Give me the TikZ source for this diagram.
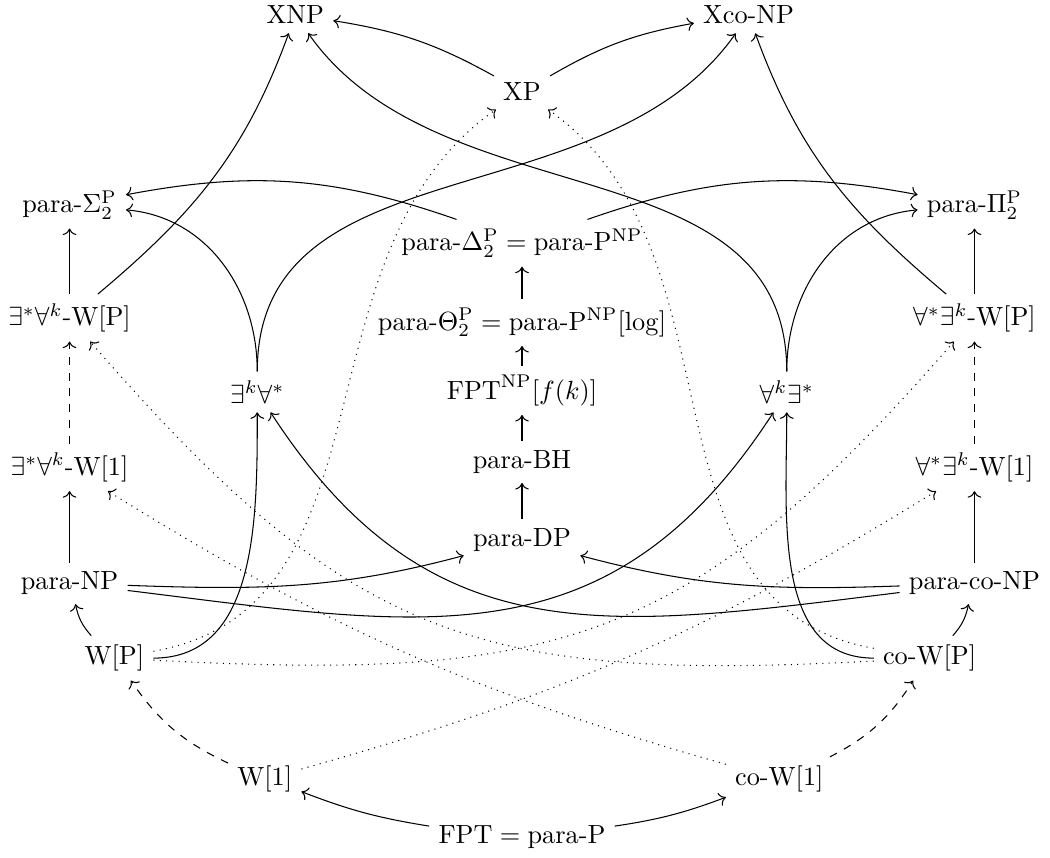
\documentclass[tikz,border=0pt]{standalone}
\usepackage{amsmath}
\usetikzlibrary{arrows.meta}

\begin{document}
\begin{tikzpicture}[
  arr/.style={->},
  darr/.style={->, dashed},
  oarr/.style={->, dotted}
]
\useasboundingbox (-6.98,0) rectangle (7.06,11.46);

% Middle column
\node (fpt) at (0,0.27) {$\mathrm{FPT} = \text{para-P}$};
\node (pdp) at (0,4.24) {para-DP};
\node (pbh) at (0,5.28) {para-BH};
\node (fptnp) at (0,6.24) {$\mathrm{FPT}^{\mathrm{NP}}[f(k)]$};
\node (ptheta) at (0,7.15) {$\text{para-}\Theta_2^{\mathrm{P}} = \text{para-}\mathrm{P}^{\mathrm{NP}}[\log]$};
\node (pdelta) at (0,8.21) {$\text{para-}\Delta_2^{\mathrm{P}} = \text{para-}\mathrm{P}^{\mathrm{NP}}$};
\node (xp) at (0,10.24) {XP};

% Left side
\node (wone) at (-3.44,1.04) {W[1]};
\node (wp) at (-5.45,2.66) {W[P]};
\node (pnp) at (-6.05,3.66) {para-NP};
\node (eaw1) at (-6.05,5.21) {$\exists^*\forall^k\text{-W[1]}$};
\node (eka) at (-3.54,6.22) {$\exists^k\forall^*$};
\node (eawp) at (-6.05,7.21) {$\exists^*\forall^k\text{-W[P]}$};
\node (psig) at (-6.05,8.72) {$\text{para-}\Sigma_2^{\mathrm{P}}$};
\node (xnp) at (-3.03,11.26) {XNP};

% Right side
\node (cowone) at (3.44,1.04) {co-W[1]};
\node (cowp) at (5.45,2.66) {co-W[P]};
\node (pconp) at (6.05,3.66) {para-co-NP};
\node (aew1) at (6.05,5.21) {$\forall^*\exists^k\text{-W[1]}$};
\node (ake) at (3.54,6.22) {$\forall^k\exists^*$};
\node (aewp) at (6.05,7.21) {$\forall^*\exists^k\text{-W[P]}$};
\node (ppi) at (6.05,8.72) {$\text{para-}\Pi_2^{\mathrm{P}}$};
\node (xconp) at (3.03,11.26) {Xco-NP};

% W-hierarchy
\draw[arr] (fpt) to[bend left=6] (wone);
\draw[arr] (fpt) to[bend right=6] (cowone);
\draw[darr] (wone) to[bend left=15] (wp);
\draw[darr] (cowone) to[bend right=15] (cowp);
\draw[arr] (wp) to[bend left=15] (pnp);
\draw[arr] (cowp) to[bend right=15] (pconp);

% Outer columns
\draw[arr] (pnp) -- (eaw1);
\draw[darr] (eaw1) -- (eawp);
\draw[arr] (eawp) -- (psig);
\draw[arr] (pconp) -- (aew1);
\draw[darr] (aew1) -- (aewp);
\draw[arr] (aewp) -- (ppi);

% Middle column
\draw[arr] (pdp) -- (pbh);
\draw[arr] (pbh) -- (fptnp);
\draw[arr] (fptnp) -- (ptheta);
\draw[arr] (ptheta) -- (pdelta);
\draw[arr] (pnp) to[out=-2,in=195] (pdp);
\draw[arr] (pconp) to[out=182,in=-15] (pdp);
\draw[arr] (pdelta) to[bend right=15] (psig);
\draw[arr] (pdelta) to[bend left=15] (ppi);

% Quantifier classes
\draw[arr] (wp) to[out=0,in=270] (eka);
\draw[arr] (cowp) to[out=180,in=270] (ake);
\draw[arr] (pnp) to[out=-7,in=237,looseness=1.15] (ake);
\draw[arr] (pconp) to[out=187,in=-57,looseness=1.15] (eka);
\draw[arr] (eka) to[out=90,in=-5] (psig);
\draw[arr] (ake) to[out=90,in=185] (ppi);
\draw[arr] (eka) to[out=90,in=235] (xconp);
\draw[arr] (ake) to[out=90,in=-55] (xnp);

% X classes
\draw[arr] (xp) to[bend right=10] (xnp);
\draw[arr] (xp) to[bend left=10] (xconp);
\draw[arr] (eawp) to[out=40,in=250] (xnp);
\draw[arr] (aewp) to[out=140,in=-70] (xconp);

% Dotted ones
\draw[oarr] (wp) to[out=10,in=215] (xp);
\draw[oarr] (cowp) to[out=170,in=-35] (xp);
\draw[oarr] (wp) to[out=-3,in=229,looseness=1.2] (aewp);
\draw[oarr] (cowp) to[out=183,in=-49,looseness=1.2] (eawp);
\draw[oarr] (wone) to[bend right=8] (aew1);
\draw[oarr] (cowone) to[bend left=8] (eaw1);

\end{tikzpicture}
\end{document}
